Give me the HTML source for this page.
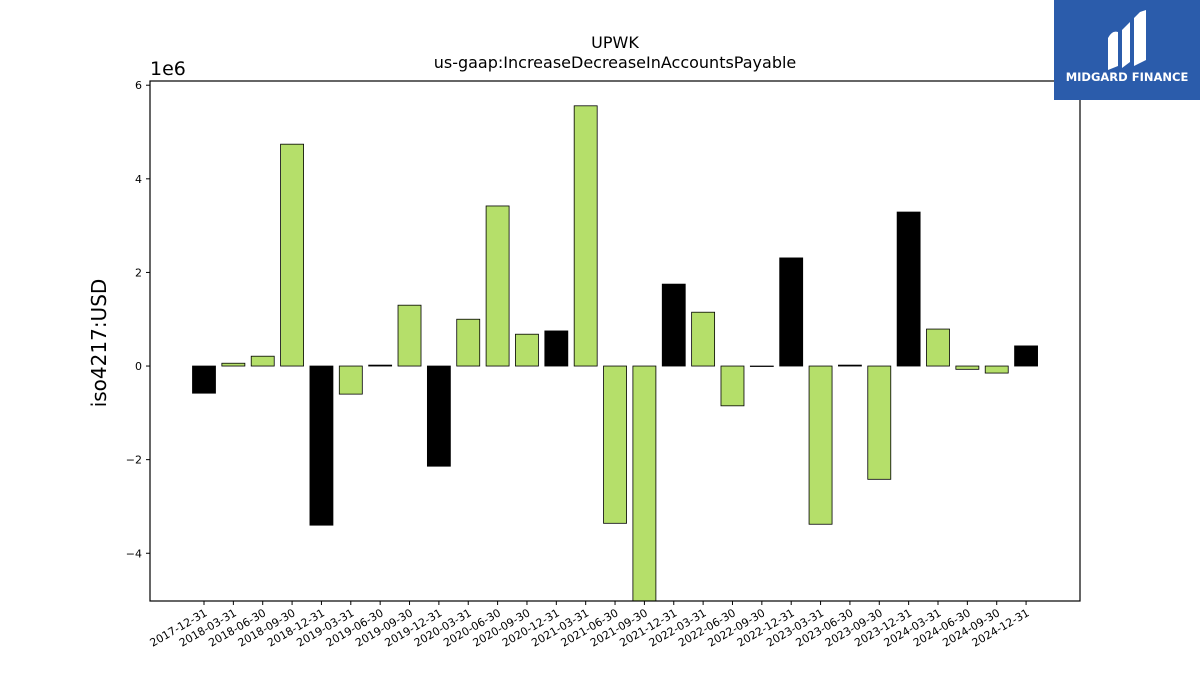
<!DOCTYPE html>
<html><head><meta charset="utf-8"><style>
body{margin:0;background:#fff;font-family:"Liberation Sans","DejaVu Sans",sans-serif;}
svg text{font-family:"DejaVu Sans","Liberation Sans",sans-serif;}
</style></head><body>
<svg id="chart" width="1200" height="675" xmlns="http://www.w3.org/2000/svg">
<rect width="1200" height="675" fill="#fff"/>
<text x="615" y="48" font-size="16" text-anchor="middle">UPWK</text>
<text x="615" y="68" font-size="16" text-anchor="middle">us-gaap:IncreaseDecreaseInAccountsPayable</text>
<text x="150" y="75" font-size="19">1e6</text>
<text transform="translate(106,343) rotate(-90)" font-size="20" text-anchor="middle">iso4217:USD</text>
<g id="bars"></g>
<g id="yticks"></g>
<g id="xticks"></g>
<rect x="150" y="81" width="930" height="520" fill="none" stroke="#000" stroke-width="1.2"/>
<g>
<rect x="1054" y="0" width="146" height="100" fill="#2b5cab"/>
<path d="M1108 70 L1108 38 Q1112 30 1118 32 L1118 66 Z M1122 68 L1122 30 L1130 22 L1130 62 Z M1134 66 L1134 18 L1140 12 L1146 10 L1146 60 Z" fill="#fff"/>
<text x="1127" y="81" font-size="11.5" font-weight="bold" fill="#fff" text-anchor="middle">MIDGARD FINANCE</text>
</g>
</svg>
<script>
const categories=["2017-12-31","2018-03-31","2018-06-30","2018-09-30","2018-12-31","2019-03-31","2019-06-30","2019-09-30","2019-12-31","2020-03-31","2020-06-30","2020-09-30","2020-12-31","2021-03-31","2021-06-30","2021-09-30","2021-12-31","2022-03-31","2022-06-30","2022-09-30","2022-12-31","2023-03-31","2023-06-30","2023-09-30","2023-12-31","2024-03-31","2024-06-30","2024-09-30","2024-12-31"];
const values=[-0.58,0.06,0.21,4.74,-3.4,-0.6,0.02,1.3,-2.14,1.0,3.42,0.68,0.75,5.56,-3.36,-5.1,1.75,1.15,-0.85,-0.01,2.31,-3.38,0.02,-2.42,3.29,0.79,-0.07,-0.15,0.43];
const isAnnual=[1,0,0,0,1,0,1,0,1,0,0,0,1,0,0,0,1,0,0,0,1,0,1,0,1,0,0,0,1];
const yTicks=[-4,-2,0,2,4,6];
const yTickLabels=["\u22124","\u22122","0","2","4","6"];
const NS="http://www.w3.org/2000/svg";
const x0=150,x1=1080,yTop=81,yBot=601,yMin=-5.02,yMax=6.09;
const step=29.36,firstX=204,bw=23;
function xs(i){return firstX+i*step;}
function ys(v){return yBot-(v-yMin)/(yMax-yMin)*(yBot-yTop);}
function mk(t,a){const e=document.createElementNS(NS,t);for(const k in a)e.setAttribute(k,a[k]);return e;}
const bars=document.getElementById('bars');
values.forEach((v,i)=>{
 const vv=Math.max(v,yMin);
 const y=Math.min(ys(0),ys(vv)),h=Math.abs(ys(vv)-ys(0));
 const r=mk('rect',{x:xs(i)-bw/2,y:y,width:bw,height:h,fill:isAnnual[i]?'#000':'#b5df6a',stroke:'#000','stroke-width':0.8});
 
 
 bars.appendChild(r);
});
const yt=document.getElementById('yticks');
yTicks.forEach((t,i)=>{
 const y=ys(t);
 const l=mk('line',{x1:x0-4,x2:x0,y1:y,y2:y,stroke:'#000'});
 
 
 yt.appendChild(l);
 const tx=mk('text',{x:x0-8,y:y+4,'font-size':11,'text-anchor':'end'});
 
 
 tx.textContent=yTickLabels[i];yt.appendChild(tx);
});
const xt=document.getElementById('xticks');
categories.forEach((c,i)=>{
 const x=xs(i);
 const l=mk('line',{x1:x,x2:x,y1:yBot,y2:yBot+4,stroke:'#000'});
 
 
 xt.appendChild(l);
 const tx=mk('text',{transform:`translate(${x+4},${yBot+14}) rotate(-30)`,'font-size':11,'text-anchor':'end'});
 
 
 tx.textContent=c;xt.appendChild(tx);
});
</script>
</body></html>
